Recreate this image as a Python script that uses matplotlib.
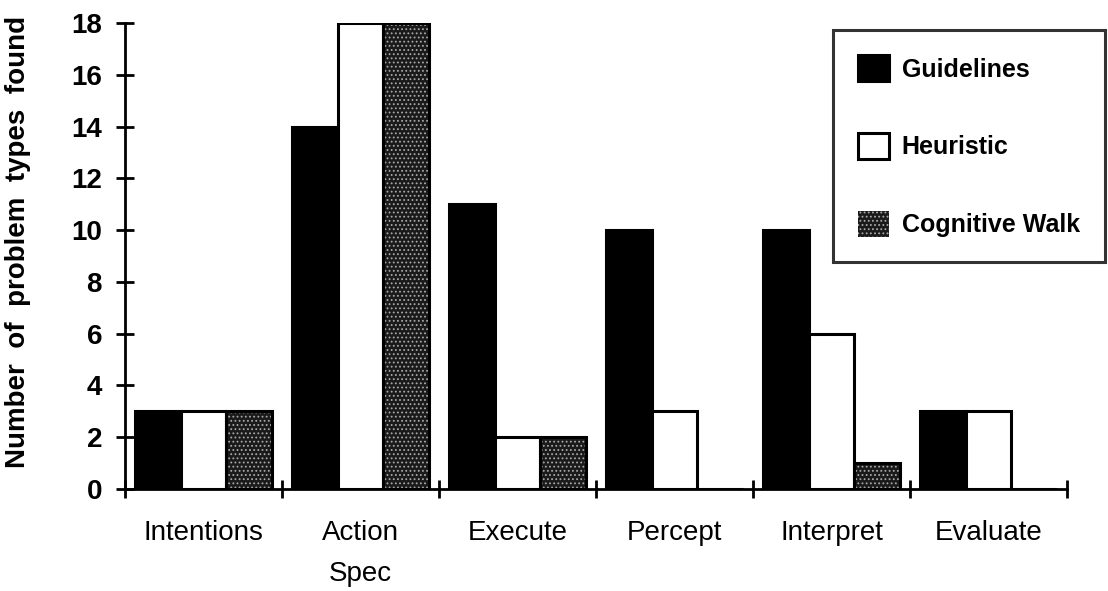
import matplotlib.pyplot as plt
import numpy as np
from matplotlib.patches import Patch

plt.rcParams["font.family"] = ["Liberation Sans", "DejaVu Sans"]

categories = ["Intentions", "Action\nSpec", "Execute", "Percept", "Interpret", "Evaluate"]
guidelines = [3, 14, 11, 10, 10, 3]
heuristic = [3, 18, 2, 3, 6, 3]
cognitive_walk = [3, 18, 2, 0, 1, 0]

fig = plt.figure(figsize=(11.08, 5.91), dpi=100)
ax = fig.add_axes([125 / 1108, 1 - 489 / 591, (1067 - 125) / 1108, (489 - 23) / 591])

x = np.arange(len(categories))
w = 0.29
lw = 2.2

ax.bar(x - w, guidelines, w, color="black", edgecolor="black", linewidth=lw)
ax.bar(x, heuristic, w, color="white", edgecolor="black", linewidth=lw)
# dotted grey fill: dark face with light dot hatch, then a solid outline
plt.rcParams["hatch.linewidth"] = 0.8
ax.bar(x + w, cognitive_walk, w, color="#1a1a1a", edgecolor="#a8a8a8", hatch="....", linewidth=0)
ax.bar(x + w, cognitive_walk, w, color="none", edgecolor="black", linewidth=lw)

ax.set_xlim(-0.5, len(categories) - 0.5)
ax.set_ylim(0, 18)
ax.set_yticks(range(0, 19, 2))
ax.set_xticks(np.arange(-0.5, len(categories), 1.0))
ax.set_xticklabels([])
ax.set_xticks(x, minor=True)
ax.set_xticklabels(categories, minor=True, fontsize=20, linespacing=1.75)
ax.tick_params(axis="x", which="minor", length=0, pad=22)
ax.tick_params(axis="both", which="major", direction="inout", length=13, width=2)
ax.tick_params(axis="y", labelsize=20, pad=10)
for lab in ax.get_yticklabels():
    lab.set_fontweight("bold")

for side in ("top", "right"):
    ax.spines[side].set_visible(False)
for side in ("left", "bottom"):
    ax.spines[side].set_linewidth(2)
    ax.spines[side].set_clip_on(False)

ax.set_ylabel("Number  of  problem  types  found", fontsize=20, fontweight="bold")
ax.yaxis.set_label_coords(-94 / 942, 0.53)

handles = [
    Patch(facecolor="black", edgecolor="black", linewidth=lw),
    Patch(facecolor="white", edgecolor="black", linewidth=lw),
    Patch(facecolor="#1a1a1a", edgecolor="#a8a8a8", hatch="....", linewidth=0),
]
leg = fig.legend(handles, ["Guidelines", "Heuristic", "Cognitive Walk"],
                 loc="upper left", bbox_to_anchor=(833 / 1108, 1 - 30 / 591),
                 fontsize=18, frameon=True, fancybox=False, edgecolor="black",
                 handlelength=1.25, handleheight=1.25, labelspacing=2.05,
                 borderpad=1.0, handletextpad=0.5, borderaxespad=0)
leg.get_frame().set_linewidth(2.2)
for t in leg.get_texts():
    t.set_fontweight("bold")

fig.savefig("out.png", dpi=100)
